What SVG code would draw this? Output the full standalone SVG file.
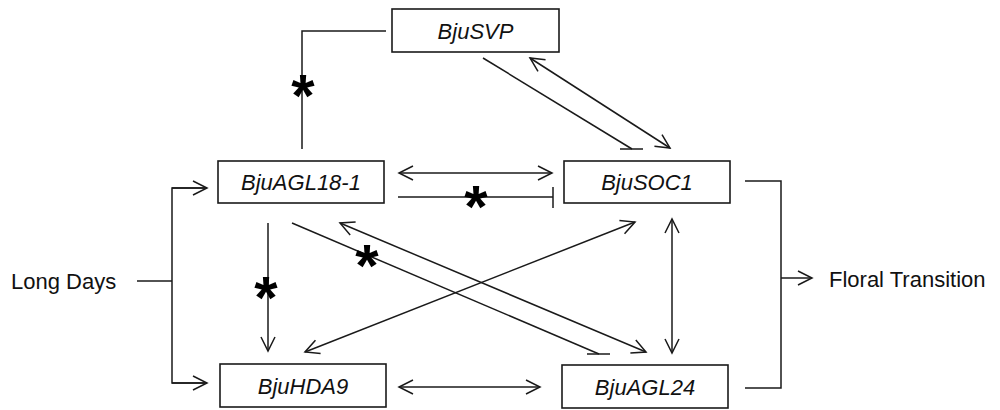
<svg xmlns="http://www.w3.org/2000/svg" width="1000" height="410" viewBox="0 0 1000 410">
<style>
.box{fill:#fff;stroke:#1a1a1a;stroke-width:1.6}
.lbl{font-family:"Liberation Sans",Arial,sans-serif;font-size:22px;font-style:italic;fill:#111;text-anchor:middle}
.txt{font-family:"Liberation Sans",Arial,sans-serif;font-size:22px;fill:#111}
.ln{fill:none;stroke:#1a1a1a;stroke-width:1.5}
.ast{font-family:"Liberation Sans",Arial,sans-serif;font-size:60px;font-weight:bold;fill:#000;text-anchor:middle}
</style>
<defs>
<marker id="arr" markerUnits="userSpaceOnUse" markerWidth="20" markerHeight="20" viewBox="-16 -10 20 20" refX="0" refY="0" orient="auto-start-reverse">
<path d="M -14 -7 L 0 0 L -14 7" fill="none" stroke="#1a1a1a" stroke-width="1.5"/>
</marker>
</defs>
<rect width="1000" height="410" fill="#fff"/>
<g id="connectors">
<polyline class="ln" points="386,31 302,31 302,149"/>
<line class="ln" x1="137" y1="281" x2="172" y2="281"/>
<polyline class="ln" points="207,188 172,188 172,383 207,383"/>
<line class="ln" x1="172" y1="188" x2="207" y2="188" marker-end="url(#arr)"/>
<line class="ln" x1="172" y1="383" x2="207" y2="383" marker-end="url(#arr)"/>
<line class="ln" x1="399" y1="173" x2="552" y2="173" marker-start="url(#arr)" marker-end="url(#arr)"/>
<line class="ln" x1="398" y1="197" x2="553" y2="197"/>
<line class="ln" x1="553" y1="187" x2="553" y2="208"/>
<line class="ln" x1="483" y1="58" x2="632" y2="149"/>
<line class="ln" x1="620" y1="149" x2="643" y2="149"/>
<line class="ln" x1="530" y1="58" x2="670" y2="148" marker-start="url(#arr)" marker-end="url(#arr)"/>
<line class="ln" x1="268" y1="223" x2="268" y2="351" marker-end="url(#arr)"/>
<line class="ln" x1="292" y1="223" x2="599" y2="354"/>
<line class="ln" x1="587" y1="354" x2="610" y2="354"/>
<line class="ln" x1="340" y1="223" x2="646" y2="352" marker-start="url(#arr)" marker-end="url(#arr)"/>
<line class="ln" x1="305" y1="352" x2="635" y2="222" marker-start="url(#arr)" marker-end="url(#arr)"/>
<line class="ln" x1="672" y1="219" x2="672" y2="353" marker-start="url(#arr)" marker-end="url(#arr)"/>
<line class="ln" x1="399" y1="387" x2="540" y2="387" marker-start="url(#arr)" marker-end="url(#arr)"/>
<polyline class="ln" points="745,181 781,181 781,388 745,388"/>
<line class="ln" x1="781" y1="278" x2="812" y2="278" marker-end="url(#arr)"/>
<text class="ast" x="303" y="116">*</text>
<text class="ast" x="476" y="227">*</text>
<text class="ast" x="367" y="286">*</text>
<text class="ast" x="266" y="318">*</text>
</g>
<g id="long-days"><text class="txt" x="11" y="289">Long Days</text></g>
<g id="floral-transition"><text class="txt" x="829" y="287">Floral Transition</text></g>
<g id="BjuSVP"><rect class="box" x="392" y="9" width="167" height="43"/><text class="lbl" x="475.5" y="38.5">BjuSVP</text></g>
<g id="BjuAGL18-1"><rect class="box" x="218" y="161" width="166" height="42"/><text class="lbl" x="301" y="190">BjuAGL18-1</text></g>
<g id="BjuSOC1"><rect class="box" x="564" y="161" width="166" height="42"/><text class="lbl" x="647" y="190">BjuSOC1</text></g>
<g id="BjuHDA9"><rect class="box" x="220" y="364" width="166" height="43"/><text class="lbl" x="303" y="393.5">BjuHDA9</text></g>
<g id="BjuAGL24"><rect class="box" x="562" y="365" width="166" height="43"/><text class="lbl" x="645" y="394.5">BjuAGL24</text></g>
</svg>
